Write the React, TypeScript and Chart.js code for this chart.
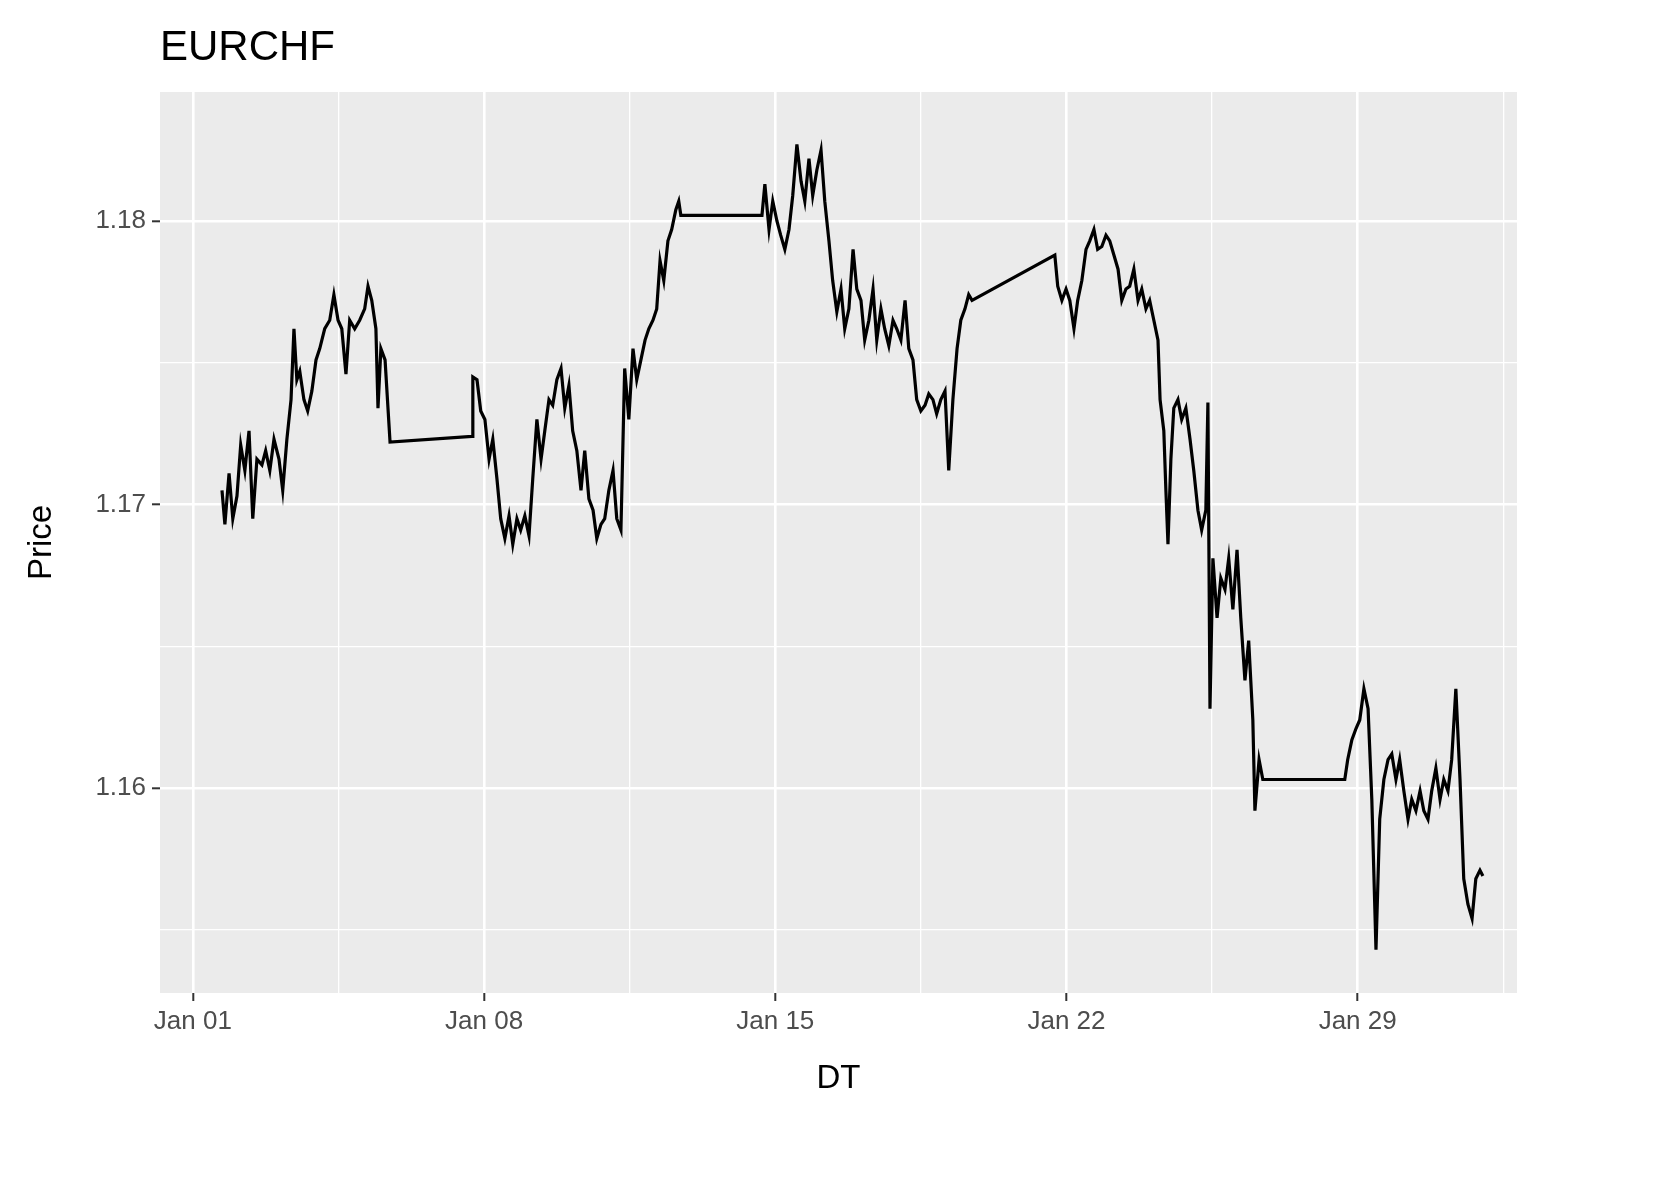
import React, { useEffect, useRef } from 'react';
import Chart from 'chart.js/auto';

// === Data (days since Jan 01, price) ===
const days = [
  0.70, 0.77, 0.87, 0.96, 1.06, 1.15, 1.25, 1.35, 1.44, 1.54, 1.66, 1.75, 1.85, 1.95, 2.07, 2.16, 2.26, 2.36, 2.43, 2.50,
  2.57, 2.67, 2.76, 2.86, 2.96, 3.05, 3.17, 3.29, 3.39, 3.49, 3.58, 3.68, 3.77, 3.89, 4.01, 4.13, 4.21, 4.30, 4.40, 4.45,
  4.52, 4.62, 4.74,
  6.71, 6.73, 6.83, 6.92, 7.02, 7.12, 7.21, 7.31, 7.40, 7.50, 7.60, 7.69, 7.79, 7.88, 7.98, 8.08, 8.17, 8.27, 8.37, 8.46,
  8.56, 8.65, 8.75, 8.85, 8.94, 9.04, 9.13, 9.23, 9.33, 9.42, 9.52, 9.62, 9.71, 9.81, 9.90, 10.00, 10.10, 10.19, 10.29,
  10.38, 10.48, 10.58, 10.67, 10.77, 10.87, 10.96, 11.06, 11.15, 11.23, 11.32, 11.42, 11.51, 11.61, 11.68, 11.73,
  13.68, 13.75, 13.85, 13.94, 14.04, 14.13, 14.23, 14.33, 14.42, 14.52, 14.62, 14.71, 14.81, 14.90, 15.00, 15.10, 15.19,
  15.29, 15.38, 15.48, 15.58, 15.67, 15.77, 15.87, 15.96, 16.06, 16.15, 16.25, 16.35, 16.44, 16.54, 16.63, 16.73, 16.83,
  16.92, 17.02, 17.12, 17.21, 17.31, 17.40, 17.50, 17.60, 17.69, 17.79, 17.88, 17.98, 18.08, 18.17, 18.27, 18.37, 18.46,
  18.56, 18.65, 18.73,
  20.72, 20.79, 20.89, 20.99, 21.08, 21.18, 21.27, 21.37, 21.47, 21.56, 21.66, 21.75, 21.85, 21.95, 22.04, 22.14, 22.24,
  22.33, 22.43, 22.52, 22.62, 22.72, 22.81, 22.91, 23.00, 23.10, 23.20, 23.25, 23.34, 23.39, 23.44, 23.51, 23.58, 23.68,
  23.77, 23.87, 23.97, 24.06, 24.16, 24.25, 24.35, 24.40, 24.45, 24.52, 24.62, 24.71, 24.81, 24.90, 25.00, 25.10, 25.19,
  25.29, 25.38, 25.48, 25.53, 25.63, 25.72, 25.79,
  27.69, 27.76, 27.86, 27.96, 28.05, 28.15, 28.25, 28.34, 28.44, 28.53, 28.63, 28.73, 28.82, 28.92, 29.01, 29.11, 29.21,
  29.30, 29.40, 29.50, 29.59, 29.69, 29.78, 29.88, 29.98, 30.07, 30.17, 30.26, 30.36, 30.46, 30.55, 30.65, 30.75, 30.84,
  30.94, 31.01,
];

const prices = [
  1.1705, 1.1693, 1.1711, 1.1695, 1.1703, 1.1721, 1.1712, 1.1726, 1.1695, 1.1716, 1.1714, 1.1719, 1.1712, 1.1723, 1.1716, 1.1705, 1.1723, 1.1737, 1.1762, 1.1744,
  1.1747, 1.1737, 1.1733, 1.1740, 1.1751, 1.1755, 1.1762, 1.1765, 1.1774, 1.1765, 1.1762, 1.1746, 1.1765, 1.1762, 1.1765, 1.1769, 1.1777, 1.1772, 1.1762, 1.1734,
  1.1755, 1.1751, 1.1722,
  1.1724, 1.1745, 1.1744, 1.1733, 1.1730, 1.1716, 1.1723, 1.1709, 1.1695, 1.1688, 1.1696, 1.1686, 1.1695, 1.1691, 1.1696, 1.1689, 1.1709, 1.1730, 1.1716, 1.1726,
  1.1737, 1.1735, 1.1744, 1.1748, 1.1734, 1.1742, 1.1726, 1.1719, 1.1705, 1.1719, 1.1702, 1.1698, 1.1688, 1.1693, 1.1695, 1.1705, 1.1712, 1.1695, 1.1691,
  1.1748, 1.1730, 1.1755, 1.1744, 1.1751, 1.1758, 1.1762, 1.1765, 1.1769, 1.1786, 1.1779, 1.1793, 1.1797, 1.1804, 1.1807, 1.1802,
  1.1802, 1.1813, 1.1797, 1.1807, 1.1800, 1.1795, 1.1790, 1.1797, 1.1809, 1.1827, 1.1814, 1.1807, 1.1822, 1.1809, 1.1818, 1.1825, 1.1807,
  1.1793, 1.1779, 1.1768, 1.1776, 1.1762, 1.1769, 1.1790, 1.1776, 1.1772, 1.1758, 1.1765, 1.1776, 1.1758, 1.1769, 1.1762, 1.1756, 1.1765,
  1.1762, 1.1758, 1.1772, 1.1755, 1.1751, 1.1737, 1.1733, 1.1735, 1.1739, 1.1737, 1.1732, 1.1737, 1.1740, 1.1712, 1.1737, 1.1755, 1.1765,
  1.1769, 1.1774, 1.1772,
  1.1788, 1.1777, 1.1772, 1.1776, 1.1772, 1.1762, 1.1772, 1.1779, 1.1790, 1.1793, 1.1797, 1.1790, 1.1791, 1.1795, 1.1793, 1.1788, 1.1783,
  1.1772, 1.1776, 1.1777, 1.1783, 1.1772, 1.1776, 1.1769, 1.1772, 1.1765, 1.1758, 1.1737, 1.1726, 1.1705, 1.1686, 1.1716, 1.1734, 1.1737,
  1.1730, 1.1734, 1.1723, 1.1712, 1.1698, 1.1691, 1.1698, 1.1736, 1.1628, 1.1681, 1.1660, 1.1674, 1.1670, 1.1681, 1.1663, 1.1684, 1.1660,
  1.1638, 1.1652, 1.1624, 1.1592, 1.1610, 1.1603, 1.1603,
  1.1603, 1.1610, 1.1617, 1.1621, 1.1624, 1.1635, 1.1628, 1.1596, 1.1543, 1.1589, 1.1603, 1.1610, 1.1612, 1.1603, 1.1610, 1.1599, 1.1589,
  1.1596, 1.1592, 1.1599, 1.1592, 1.1589, 1.1599, 1.1607, 1.1596, 1.1603, 1.1599, 1.1610, 1.1635, 1.1603, 1.1568, 1.1559, 1.1554, 1.1568,
  1.1571, 1.1569,
];

const xTicks = [0, 3.5, 7, 10.5, 14, 17.5, 21, 24.5, 28, 31.5];
const xLabels: Record<number, string> = { 0: 'Jan 01', 7: 'Jan 08', 14: 'Jan 15', 21: 'Jan 22', 28: 'Jan 29' };
const yTicks = [1.155, 1.16, 1.165, 1.17, 1.175, 1.18];
const yMajor = [1.16, 1.17, 1.18];

const FONT = '"Liberation Sans", Arial, sans-serif';

const isMajorX = (v: number) => xLabels[v] !== undefined;
const isMajorY = (v: number) => yMajor.some(m => Math.abs(m - v) < 1e-6);

const ggPlugin = {
  id: 'gg',
  beforeDraw(chart: any) {
    const { ctx, chartArea: a } = chart;
    ctx.save();
    ctx.fillStyle = '#ebebeb';
    ctx.fillRect(a.left, a.top, a.right - a.left, a.bottom - a.top);
    ctx.restore();
  },
  afterDraw(chart: any) {
    const { ctx, chartArea: a } = chart;
    ctx.save();
    ctx.fillStyle = '#000000';
    ctx.font = `42px ${FONT}`;
    ctx.textBaseline = 'alphabetic';
    ctx.textAlign = 'left';
    ctx.fillText('EURCHF', a.left, 60);
    ctx.font = `33px ${FONT}`;
    ctx.textAlign = 'center';
    ctx.fillText('DT', (a.left + a.right) / 2, 1088);
    ctx.translate(51, (a.top + a.bottom) / 2);
    ctx.rotate(-Math.PI / 2);
    ctx.fillText('Price', 0, 0);
    ctx.restore();
  },
};

export default function App() {
  const ref = useRef<HTMLCanvasElement>(null);

  useEffect(() => {
    document.body.style.margin = '0';
    if (!ref.current) return;
    const chart = new Chart(ref.current, {
      type: 'line',
      data: {
        datasets: [{
          data: days.map((d, i) => ({ x: d, y: prices[i] })),
          borderColor: '#000000',
          borderWidth: 3.2,
          pointRadius: 0,
          tension: 0,
        }],
      },
      options: {
        animation: false,
        responsive: false,
        layout: { padding: { top: 92, right: 136, left: 0, bottom: 0 } },
        plugins: { legend: { display: false }, tooltip: { enabled: false } },
        scales: {
          x: {
            type: 'linear',
            min: -0.79,
            max: 31.83,
            afterBuildTicks: (s: any) => { s.ticks = xTicks.map(v => ({ value: v })); },
            afterFit: (s: any) => { s.height = 188; },
            border: { display: false },
            grid: {
              color: '#ffffff',
              lineWidth: (c: any) => (isMajorX(c.tick?.value) ? 2.6 : 1.3),
              tickColor: (c: any) => (isMajorX(c.tick?.value) ? '#333333' : 'rgba(0,0,0,0)'),
              tickLength: 8,
              tickWidth: 2,
            },
            ticks: {
              autoSkip: false,
              maxRotation: 0,
              padding: 5,
              color: '#4d4d4d',
              font: { family: FONT, size: 26 },
              callback: (v: any) => xLabels[v as number] ?? '',
            },
          },
          y: {
            min: 1.15277,
            max: 1.18455,
            afterBuildTicks: (s: any) => { s.ticks = yTicks.map(v => ({ value: v })); },
            afterFit: (s: any) => { s.width = 160; },
            border: { display: false },
            grid: {
              color: '#ffffff',
              lineWidth: (c: any) => (isMajorY(c.tick?.value) ? 2.6 : 1.3),
              tickColor: (c: any) => (isMajorY(c.tick?.value) ? '#333333' : 'rgba(0,0,0,0)'),
              tickLength: 8,
              tickWidth: 2,
            },
            ticks: {
              autoSkip: false,
              padding: 6,
              color: '#4d4d4d',
              font: { family: FONT, size: 26 },
              callback: (v: any) => (isMajorY(v) ? Number(v).toFixed(2) : ''),
            },
          },
        },
      },
      plugins: [ggPlugin],
    });
    return () => chart.destroy();
  }, []);

  return <canvas ref={ref} width={1653} height={1181} style={{ display: 'block', background: '#ffffff' }} />;
}
